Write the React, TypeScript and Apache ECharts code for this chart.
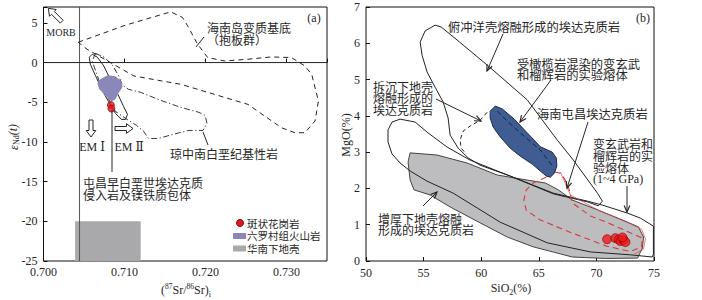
import React, { useEffect, useRef } from 'react';
import * as echarts from 'echarts';

// ---------- Panel (a): Sr–Nd isotopes ----------
const bulkEarthSr = 0.70445;
const refLineVertA = [[bulkEarthSr, -25], [bulkEarthSr, 7]];
const refLineHorizA = [[0.7, 0], [0.735, 0]];
const basementA = [
  [0.70429, 2.56], [0.71012, 4.71], [0.71571, 6.39], [0.71717, 5.68], [0.71779, 4.62],
  [0.71903, 2.31], [0.72027, 0.63], [0.72234, 0.2], [0.72524, 0.42], [0.72814, 0.71],
  [0.73062, 0.63], [0.73227, -0.43], [0.73311, -1.48], [0.73394, -4.85], [0.73352, -7.37],
  [0.73227, -8.84], [0.73103, -8.84], [0.72938, -8.21], [0.72524, -5.27], [0.72109, -4.0],
  [0.71696, -2.74], [0.71116, -1.69], [0.70826, 0], [0.70537, 1.68],
];
const qiongzhongA = [
  [0.7064, 1.17], [0.70752, 0.67], [0.70851, -0.34], [0.70925, -1.6], [0.70975, -2.86],
  [0.7105, -3.37], [0.71199, -3.75], [0.71447, -4.76], [0.71696, -5.65], [0.71919, -6.27],
  [0.71994, -6.65], [0.72019, -7.66], [0.71969, -8.55], [0.71795, -8.55], [0.71596, -9.05],
  [0.71422, -9.56], [0.71298, -9.56], [0.71236, -8.67], [0.71149, -7.92], [0.7105, -7.29],
  [0.70888, -6.15], [0.70702, -2.74], [0.70602, 0.16],
];
const tunchangA = [
  [0.70602, 1.05], [0.70665, 0.67], [0.70739, -0.34], [0.70826, -2.12], [0.70913, -3.88],
  [0.70988, -5.52], [0.71037, -6.53], [0.71012, -7.16], [0.70963, -7.16], [0.70888, -6.4],
  [0.70801, -4.89], [0.70714, -3.25], [0.7064, -1.6], [0.70578, -0.21], [0.70565, 0.67],
];
const liuluocunA = [
  [0.70702, -2.11], [0.70789, -1.6], [0.70888, -1.73], [0.70963, -2.36], [0.70975, -3.12],
  [0.70925, -3.88], [0.70888, -4.63], [0.70839, -4.89], [0.70776, -4.26], [0.70689, -3.37],
  [0.70665, -2.61],
];
const lowerCrustA = [[0.7039, -20], [0.712, -20], [0.712, -25], [0.7039, -25]];
const graniteA = [[0.70832, -5.35], [0.70838, -5.8]];

// ---------- Panel (b): SiO2–MgO ----------
const slabMeltB = [
  [56.0, 6.5], [56.52, 6.45], [57.91, 6.09], [60.52, 5.4], [64.0, 4.44], [66.61, 3.33],
  [68.0, 2.78], [70.09, 1.87], [70.52, 1.65], [70.17, 1.52], [69.22, 1.63], [66.26, 1.85],
  [62.52, 2.34], [59.91, 2.64], [58.87, 2.84], [58.0, 3.11], [57.3, 3.47], [57.13, 3.94],
  [56.7, 4.38], [56.0, 4.79], [55.3, 5.21], [54.87, 5.67], [54.7, 6.03], [55.13, 6.34],
];
const delaminatedB = [
  [52.96, 3.91], [52.26, 3.83], [51.91, 3.61], [51.91, 3.28], [52.26, 2.95], [52.96, 2.7],
  [53.83, 2.48], [55.3, 2.2], [57.57, 1.87], [61.65, 1.07], [65.74, 0.5], [69.48, 0.25],
  [72.96, 0.17], [74.85, 0.11], [74.95, 0.19], [74.95, 0.96], [73.83, 1.18], [72.7, 1.32],
  [70.52, 1.54], [69.22, 1.65], [66.26, 1.87], [62.52, 2.34], [59.04, 2.78], [57.04, 3.14],
  [55.39, 3.53], [54.26, 3.83],
];
const delaminatedDashB = [
  [60.52, 4.1], [59.91, 3.88], [59.04, 3.72], [58.43, 3.58], [58.17, 3.33], [58.26, 3.11], [58.7, 2.95],
];
const thickenedB = [
  [53.83, 2.98], [56.17, 2.92], [58.78, 2.7], [61.39, 2.37], [64.0, 2.23], [65.57, 2.15],
  [66.7, 1.96], [67.91, 1.68], [70.17, 1.4], [72.26, 1.13], [73.65, 0.94], [74.09, 0.66],
  [74.0, 0.36], [73.57, 0.08], [70.78, 0.07], [67.91, 0.11], [64.52, 0.39], [62.26, 0.66],
  [59.91, 1.05], [57.3, 1.49], [55.57, 1.82], [54.17, 1.96], [53.83, 2.23], [53.65, 2.73],
];
const tunchangB = [
  [61.22, 4.27], [60.78, 4.13], [60.78, 3.94], [61.04, 3.69], [61.65, 3.42], [62.52, 3.11],
  [63.39, 2.89], [64.43, 2.67], [65.13, 2.48], [65.65, 2.34], [66.0, 2.31], [66.35, 2.42],
  [66.57, 2.62], [66.52, 2.84], [66.17, 3.0], [65.13, 3.15], [64.0, 3.53], [62.87, 3.91],
  [61.83, 4.19],
];
const peridotiteTrendB = [[61.39, 4.13], [62.35, 3.83], [63.39, 3.53], [65.13, 3.06], [66.26, 2.59]];
const experimentalB = [
  [66.43, 2.45], [65.83, 2.34], [64.52, 2.15], [63.91, 1.96], [63.7, 1.68], [63.91, 1.4],
  [65.13, 1.13], [67.91, 0.77], [70.87, 0.41], [72.96, 0.26], [73.91, 0.39], [74.0, 0.63],
  [73.22, 0.74], [70.87, 1.07], [69.48, 1.24], [67.91, 1.6], [67.65, 1.96], [67.3, 2.23],
  [66.87, 2.42],
];
const experimentalEdgeB = [
  [66.87, 2.45], [67.74, 1.82], [70.17, 1.4], [72.78, 1.05], [73.91, 0.88], [74.26, 0.61],
  [74.09, 0.33], [73.3, 0.19],
];
const graniteB = [
  [70.93, 0.6], [71.65, 0.63], [71.94, 0.59], [72.09, 0.55], [72.37, 0.58], [72.52, 0.52], [72.26, 0.65],
];

const legendLabels = ['斑状花岗岩', '六罗村组火山岩', '华南下地壳'];

const SERIF = '"Liberation Serif", "DejaVu Serif", serif';
const CJK = '"Noto Sans CJK SC", sans-serif';
const INK = '#262626';

type Shape = { pts: number[][]; closed: boolean; fill?: string; stroke?: string; lw?: number; dash?: number[] };

function shapeSeries(shapes: Shape[], idx: number, z: number) {
  return {
    type: 'custom',
    xAxisIndex: idx,
    yAxisIndex: idx,
    z,
    silent: true,
    data: shapes.map((s) => s.pts[0]),
    renderItem: (params: any, api: any) => {
      const s = shapes[params.dataIndex];
      const points = s.pts.map((p) => api.coord(p));
      return {
        type: s.closed ? 'polygon' : 'polyline',
        shape: { points },
        style: {
          fill: s.fill || 'none',
          stroke: s.stroke || 'none',
          lineWidth: s.lw ?? 1,
          lineDash: s.dash || null,
        },
      };
    },
  };
}

function arrowEls(x1: number, y1: number, x2: number, y2: number, head = true) {
  const els: any[] = [
    { type: 'line', shape: { x1, y1, x2, y2 }, style: { stroke: INK, lineWidth: 1 }, z: 20, silent: true },
  ];
  if (head) {
    const a = Math.atan2(y2 - y1, x2 - x1);
    const L = 7, w = 0.42;
    els.push({
      type: 'polyline',
      shape: {
        points: [
          [x2 - L * Math.cos(a - w), y2 - L * Math.sin(a - w)],
          [x2, y2],
          [x2 - L * Math.cos(a + w), y2 - L * Math.sin(a + w)],
        ],
      },
      style: { stroke: INK, lineWidth: 1.2, fill: null },
      z: 20,
      silent: true,
    });
  }
  return els;
}

function hollowArrow(tx: number, ty: number, hx: number, hy: number, sw = 2, hw = 4.8, hl = 6.5) {
  const len = Math.hypot(hx - tx, hy - ty);
  const dx = (hx - tx) / len, dy = (hy - ty) / len;
  const px = -dy, py = dx;
  const nx = hx - dx * hl, ny = hy - dy * hl;
  const points = [
    [tx + px * sw, ty + py * sw],
    [nx + px * sw, ny + py * sw],
    [nx + px * hw, ny + py * hw],
    [hx, hy],
    [nx - px * hw, ny - py * hw],
    [nx - px * sw, ny - py * sw],
    [tx - px * sw, ty - py * sw],
  ];
  return { type: 'polygon', shape: { points }, style: { fill: '#fff', stroke: INK, lineWidth: 1 }, z: 20, silent: true };
}

// text (possibly multi-line); y is the centre of the whole block
function txt(x: number, y: number, text: string, size = 12, family = CJK, align = 'left', lineHeight?: number) {
  return {
    type: 'text',
    x,
    y,
    z: 21,
    silent: true,
    style: {
      text,
      fill: INK,
      font: `${size}px ${family}`,
      lineHeight: lineHeight ?? Math.round(size * 1.2),
      textAlign: align,
      align,
      textVerticalAlign: 'middle',
      verticalAlign: 'middle',
    },
  };
}

export default function App() {
  const ref = useRef<HTMLDivElement>(null);
  useEffect(() => {
    if (!ref.current) return;
    const chart = echarts.init(ref.current, null, { renderer: 'svg' });

    const shapesA: Shape[] = [
      { pts: lowerCrustA, closed: true, fill: '#a9a9ac', stroke: 'none' },
      { pts: refLineVertA, closed: false, stroke: '#555', lw: 1 },
      { pts: refLineHorizA, closed: false, stroke: '#222', lw: 1 },
      { pts: basementA, closed: true, stroke: '#222', lw: 1, dash: [5, 4] },
      { pts: qiongzhongA, closed: true, stroke: '#222', lw: 0.9, dash: [6, 2.5, 1.2, 2.5] },
      { pts: tunchangA, closed: true, stroke: '#222', lw: 1 },
      { pts: liuluocunA, closed: true, fill: '#8a87ba', stroke: 'none' },
    ];
    const shapesB: Shape[] = [
      { pts: thickenedB, closed: true, fill: '#bdbdc0', stroke: '#333', lw: 0.9 },
      { pts: slabMeltB, closed: true, stroke: '#222', lw: 1 },
      { pts: delaminatedB, closed: true, stroke: '#222', lw: 1 },
      { pts: delaminatedDashB, closed: false, stroke: '#222', lw: 1, dash: [4, 3] },
      { pts: experimentalEdgeB, closed: false, stroke: '#d44', lw: 0.7 },
      { pts: experimentalB, closed: true, stroke: '#d63b3b', lw: 1.1, dash: [6, 4] },
      { pts: tunchangB, closed: true, fill: '#3f5c93', stroke: '#1e2b4c', lw: 1 },
      { pts: peridotiteTrendB, closed: false, stroke: '#1a2440', lw: 1, dash: [5, 3] },
    ];

    const axisLabelBase = { fontFamily: SERIF, fontSize: 12, color: INK };

    const graphic: any[] = [
      // panel (a) annotations
      hollowArrow(61.7, 21.7, 48.3, 8.3),
      txt(61, 32, 'MORB', 10, SERIF, 'center'),
      hollowArrow(91, 120, 91, 137),
      hollowArrow(115, 128.5, 133, 128.5),
      txt(92, 147, 'EM Ⅰ', 12, SERIF, 'center'),
      txt(129, 147, 'EM Ⅱ', 12, SERIF, 'center'),
      txt(314, 18, '(a)', 12, SERIF, 'center'),
      txt(207, 33.5, '海南岛变质基底\n（抱板群）', 12, CJK, 'left', 12),
      ...arrowEls(196, 47, 204, 37, false),
      txt(170, 153, '琼中南白垩纪基性岩', 12),
      ...arrowEls(203, 132, 208, 145, false),
      ...arrowEls(112, 110, 112, 172, false),
      txt(83, 188.25, '屯昌早白垩世埃达克质\n侵入岩及镁铁质包体', 12, CJK, 'left', 11.5),
      // legend (a)
      { type: 'circle', shape: { cx: 240, cy: 223, r: 3.6 }, style: { fill: '#e3161b', stroke: '#7a0000', lineWidth: 0.8 }, z: 21, silent: true },
      { type: 'rect', shape: { x: 233, y: 233, width: 13, height: 6 }, style: { fill: '#8a87ba' }, z: 21, silent: true },
      { type: 'rect', shape: { x: 233, y: 245.5, width: 13, height: 6 }, style: { fill: '#a9a9ac' }, z: 21, silent: true },
      txt(247, 235.75, legendLabels.join('\n'), 10.5, CJK, 'left', 12.75),
      // axis titles (a)
      {
        type: 'text', x: 13, y: 137, rotation: Math.PI / 2, z: 21, silent: true,
        style: {
          text: '{e|ε}{s|Nd}{t|(t)}',
          textAlign: 'center', align: 'center', textVerticalAlign: 'middle', verticalAlign: 'middle',
          fill: INK,
          rich: {
            e: { fontFamily: SERIF, fontSize: 13, fontStyle: 'italic', fill: INK, lineHeight: 15 },
            s: { fontFamily: SERIF, fontSize: 8, fill: INK, verticalAlign: 'bottom', lineHeight: 15 },
            t: { fontFamily: SERIF, fontSize: 12, fontStyle: 'italic', fill: INK, lineHeight: 15 },
          },
        },
      },
      {
        type: 'text', x: 186, y: 290, z: 21, silent: true,
        style: {
          text: '{n|(}{p|87}{n|Sr/}{p|86}{n|Sr)}{b|i}',
          textAlign: 'center', align: 'center', textVerticalAlign: 'middle', verticalAlign: 'middle',
          fill: INK,
          rich: {
            n: { fontFamily: SERIF, fontSize: 12, fill: INK, lineHeight: 16 },
            p: { fontFamily: SERIF, fontSize: 7.5, fill: INK, verticalAlign: 'top', lineHeight: 16 },
            b: { fontFamily: SERIF, fontSize: 8, fill: INK, verticalAlign: 'bottom', lineHeight: 16 },
          },
        },
      },
      // panel (b) annotations
      txt(643, 18, '(b)', 12, SERIF, 'center'),
      txt(448, 27, '俯冲洋壳熔融形成的埃达克质岩', 12.3),
      ...arrowEls(503, 34, 487, 71),
      txt(517, 69.25, '受橄榄岩混染的变玄武\n和榴辉岩的实验熔体', 12.3, CJK, 'left', 11.5),
      ...arrowEls(551, 80, 520, 122),
      txt(537, 114, '海南屯昌埃达克质岩', 12.3),
      ...arrowEls(588, 122, 567, 188),
      txt(373, 97.5, '拆沉下地壳\n熔融形成的\n埃达克质岩', 12, CJK, 'left', 11.5),
      ...arrowEls(436, 99, 481, 121),
      txt(378, 223.75, '增厚下地壳熔融\n形成的埃达克质岩', 12, CJK, 'left', 11.5),
      ...arrowEls(423, 206, 437, 192),
      {
        type: 'text', x: 593, y: 161.5, z: 21, silent: true,
        style: {
          text: '{c|变玄武岩和}\n{c|榴辉岩的实}\n{c|验熔体}\n{s|(1~4 GPa)}',
          textAlign: 'left', align: 'left', textVerticalAlign: 'middle', verticalAlign: 'middle',
          fill: INK,
          rich: {
            c: { fontFamily: CJK, fontSize: 12, fill: INK, lineHeight: 11.6 },
            s: { fontFamily: SERIF, fontSize: 12, fill: INK, lineHeight: 12 },
          },
        },
      },
      ...arrowEls(627, 186, 627, 212),
      // axis titles (b)
      {
        type: 'text', x: 346, y: 135, rotation: Math.PI / 2, z: 21, silent: true,
        style: { text: 'MgO(%)', font: `12px ${SERIF}`, fill: INK, textAlign: 'center', align: 'center', textVerticalAlign: 'middle', verticalAlign: 'middle' },
      },
      {
        type: 'text', x: 511, y: 288, z: 21, silent: true,
        style: {
          text: '{n|SiO}{b|2}{n|(%)}',
          textAlign: 'center', align: 'center', textVerticalAlign: 'middle', verticalAlign: 'middle',
          fill: INK,
          rich: {
            n: { fontFamily: SERIF, fontSize: 12, fill: INK, lineHeight: 16 },
            b: { fontFamily: SERIF, fontSize: 8, fill: INK, verticalAlign: 'bottom', lineHeight: 16 },
          },
        },
      },
    ];

    const option: any = {
      animation: false,
      backgroundColor: '#fff',
      grid: [
        { left: 43.5, right: 375, top: 7, bottom: 39, show: true, borderColor: '#111', borderWidth: 1, backgroundColor: 'transparent' },
        { left: 366, right: 48, top: 7, bottom: 39, show: true, borderColor: '#111', borderWidth: 1, backgroundColor: 'transparent' },
      ],
      xAxis: [
        {
          type: 'value', gridIndex: 0, min: 0.7, max: 0.735, interval: 0.01,
          axisLine: { show: false }, splitLine: { show: false },
          axisTick: { inside: true, length: 4, lineStyle: { color: '#111' } },
          axisLabel: {
            ...axisLabelBase, margin: 5,
            formatter: (v: number) => (Math.abs(v * 100 - Math.round(v * 100)) < 1e-6 ? v.toFixed(3) : ''),
          },
        },
        {
          type: 'value', gridIndex: 1, min: 50, max: 75, interval: 5,
          axisLine: { show: false }, splitLine: { show: false },
          axisTick: { inside: true, length: 4, lineStyle: { color: '#111' } },
          axisLabel: { ...axisLabelBase, margin: 6 },
        },
      ],
      yAxis: [
        {
          type: 'value', gridIndex: 0, min: -25, max: 7, interval: 5,
          axisLine: { show: false }, splitLine: { show: false },
          axisTick: { inside: true, length: 4, lineStyle: { color: '#111' } },
          axisLabel: {
            ...axisLabelBase, margin: 6,
            formatter: (v: number) => (v % 5 === 0 ? String(v) : ''),
          },
        },
        {
          type: 'value', gridIndex: 1, min: 0, max: 7, interval: 1,
          axisLine: { show: false }, splitLine: { show: false },
          axisTick: { inside: true, length: 4, lineStyle: { color: '#111' } },
          axisLabel: { ...axisLabelBase, margin: 6 },
        },
      ],
      series: [
        shapeSeries(shapesA, 0, 2),
        {
          type: 'scatter', xAxisIndex: 0, yAxisIndex: 0, z: 5, silent: true,
          symbol: 'circle', symbolSize: 7, data: graniteA,
          itemStyle: { color: '#e3161b', borderColor: '#7a0000', borderWidth: 0.8 },
        },
        shapeSeries(shapesB, 1, 2),
        {
          type: 'scatter', xAxisIndex: 1, yAxisIndex: 1, z: 5, silent: true,
          symbol: 'circle', symbolSize: 9, data: graniteB,
          itemStyle: { color: '#ee1b1b', borderColor: '#8a0000', borderWidth: 0.8 },
        },
      ],
      graphic,
    };

    chart.setOption(option);
    return () => chart.dispose();
  }, []);

  return <div ref={ref} style={{ position: 'absolute', left: 0, top: 0, width: 702, height: 300, background: '#fff' }} />;
}
